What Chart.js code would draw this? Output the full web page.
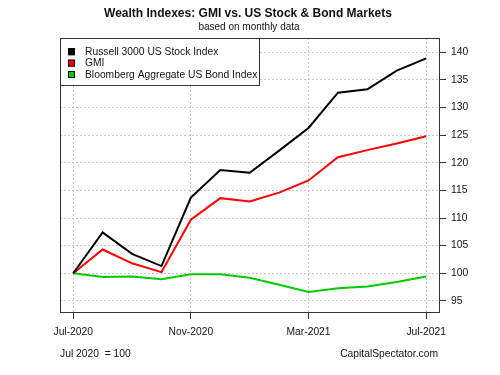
<!DOCTYPE html>
<html>
<head>
<meta charset="utf-8">
<script src="https://cdn.jsdelivr.net/npm/chart.js@4"></script>
<style>
  html, body { margin: 0; padding: 0; background: #fff; }
  #box { width: 500px; height: 375px; }
</style>
</head>
<body>
<div id="box"><canvas id="myChart" width="500" height="375"></canvas></div>
<script>
//? Données (mensuel, Jul 2020 = 100).

const mois = ["Jul-2020", "Aug-2020", "Sep-2020", "Oct-2020", "Nov-2020", "Dec-2020",
  "Jan-2021", "Feb-2021", "Mar-2021", "Apr-2021", "May-2021", "Jun-2021", "Jul-2021"];

const russell3000 = [100, 107.4, 103.5, 101.3, 113.7, 118.7, 118.2, 122.2, 126.3, 132.7, 133.3, 136.7, 138.9];
const gmi = [100, 104.3, 101.8, 100.2, 109.7, 113.6, 113.0, 114.6, 116.8, 121.0, 122.3, 123.5, 124.8];
const bondAgg = [100, 99.3, 99.4, 98.9, 99.8, 99.8, 99.2, 97.9, 96.6, 97.3, 97.6, 98.4, 99.4];

const ticksX = [0, 4, 8, 12];
const ticksY = [95, 100, 105, 110, 115, 120, 125, 130, 135, 140];

const police = "'Liberation Sans', Arial, sans-serif";
const taille = 10.3;

//? -------------------------------------------------

const versPoints = (valeurs) => valeurs.map((v, i) => ({ x: i, y: v }));

//? Plugin : titres, cadre, légende et notes de bas.

const decorPlugin = {
  id: "decor",
  beforeDraw(chart) {
    const { ctx } = chart;
    ctx.save();
    ctx.fillStyle = "#fff";
    ctx.fillRect(0, 0, chart.width, chart.height);
    ctx.restore();
  },
  afterDraw(chart) {
    const { ctx, chartArea } = chart;
    ctx.save();

    // titres
    ctx.fillStyle = "#111";
    ctx.textAlign = "center";
    ctx.textBaseline = "middle";
    ctx.font = "bold 12px " + police;
    ctx.fillText("Wealth Indexes: GMI vs. US Stock & Bond Markets", 248, 14);
    ctx.font = "10px " + police;
    ctx.fillText("based on monthly data", 249, 27);

    // cadre
    ctx.strokeStyle = "#333";
    ctx.lineWidth = 1;
    ctx.strokeRect(chartArea.left + 0.5, chartArea.top + 0.5,
      chartArea.right - chartArea.left - 1, chartArea.bottom - chartArea.top - 1);

    // légende
    const lx = chartArea.left, ly = chartArea.top;
    ctx.fillStyle = "#fff";
    ctx.fillRect(lx + 0.5, ly + 0.5, 199, 47);
    ctx.strokeRect(lx + 0.5, ly + 0.5, 199, 47);
    ctx.textAlign = "left";
    ctx.font = taille + "px " + police;
    chart.data.datasets.forEach((ds, i) => {
      const y = ly + 13.7 + i * 11.4;
      ctx.fillStyle = ds.borderColor;
      ctx.fillRect(lx + 8, y - 3.5, 7, 7);
      ctx.strokeStyle = "#000";
      ctx.strokeRect(lx + 8.5, y - 3, 6, 6);
      ctx.fillStyle = "#111";
      ctx.fillText(ds.label, lx + 25, y + 0.5);
    });

    // notes de bas
    ctx.fillStyle = "#111";
    ctx.font = taille + "px " + police;
    ctx.fillText("Jul 2020  = 100", 60, 354);
    ctx.textAlign = "right";
    ctx.fillText("CapitalSpectator.com", 438, 354);

    ctx.restore();
  },
};

//? -------------------------------------------------

//? Construction du graphique.

const constructionDuGraphique = () => {
  const ctx = document.getElementById("myChart").getContext("2d");

  const data = {
    datasets: [
      {
        label: "Russell 3000 US Stock Index",
        data: versPoints(russell3000),
        borderColor: "#000000",
        borderWidth: 2,
        pointRadius: 0,
        tension: 0,
      },
      {
        label: "GMI",
        data: versPoints(gmi),
        borderColor: "#ff0000",
        borderWidth: 2,
        pointRadius: 0,
        tension: 0,
      },
      {
        label: "Bloomberg Aggregate US Bond Index",
        data: versPoints(bondAgg),
        borderColor: "#00cc00",
        borderWidth: 2,
        pointRadius: 0,
        tension: 0,
      },
    ],
  };

  const options = {
    responsive: false,
    animation: { duration: 0 },
    layout: { padding: { left: 60, top: 38, right: 0, bottom: 0 } },
    plugins: {
      legend: { display: false },
      title: { display: false },
      tooltip: { enabled: false },
    },
    scales: {
      x: {
        type: "linear",
        min: -0.45,
        max: 12.47,
        afterBuildTicks: (axis) => {
          axis.ticks = ticksX.map((v) => ({ value: v }));
        },
        afterFit: (axis) => {
          axis.height = 62;
        },
        ticks: {
          callback: (v) => mois[v],
          color: "#111",
          font: { family: police, size: taille },
          padding: 7,
          maxRotation: 0,
          autoSkip: false,
        },
        grid: {
          color: "#c8c8c8",
          tickColor: "#333",
          tickLength: 6,
          tickBorderDash: [],
        },
        border: { display: false, dash: [2, 2] },
      },
      y: {
        type: "linear",
        position: "right",
        min: 92.8,
        max: 142.6,
        afterBuildTicks: (axis) => {
          axis.ticks = ticksY.map((v) => ({ value: v }));
        },
        afterFit: (axis) => {
          axis.width = 60;
        },
        ticks: {
          color: "#111",
          font: { family: police, size: taille },
          padding: 5,
        },
        grid: {
          color: "#c8c8c8",
          tickColor: "#333",
          tickLength: 6,
          tickBorderDash: [],
        },
        border: { display: false, dash: [2, 2] },
      },
    },
  };

  new Chart(ctx, { type: "line", data, options, plugins: [decorPlugin] });
};

constructionDuGraphique();
</script>
</body>
</html>
